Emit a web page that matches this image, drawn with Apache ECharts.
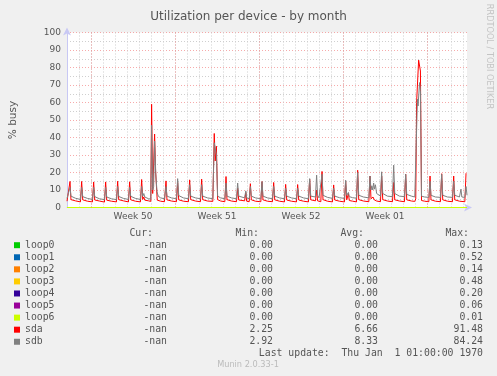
<!DOCTYPE html>
<html>
<head>
<meta charset="utf-8">
<script src="https://cdn.jsdelivr.net/npm/echarts@6/dist/echarts.min.js"></script>
<style>
  html, body { margin: 0; padding: 0; background: #f0f0f0; }
  #chart { width: 497px; height: 376px; }
</style>
</head>
<body>
<div id="chart"></div>
<script>
// x values are days since the left edge of the graph (one grid column = one day)
const weekPos = [5.5, 12.5, 19.5, 26.5]
const weekLabels = ['Week 50', 'Week 51', 'Week 52', 'Week 01']
const weekStarts = [2, 9, 16, 23, 30]

const loopZero = [[0, 0], [33.33, 0]]

const sdaPoints = [
  [0, 3.6], [0.16, 3.4], [0.25, 14.9], [0.33, 4.5], [0.7, 3.8],
  [1.12, 3.2], [1.22, 14.9], [1.31, 4.4], [1.7, 3.6],
  [2.12, 3.2], [2.22, 14.6], [2.31, 4.3], [2.7, 3.7],
  [3.12, 3.1], [3.22, 14.6], [3.31, 4.2], [3.7, 3.6],
  [4.12, 3.2], [4.22, 15], [4.31, 4.5], [4.7, 3.8],
  [5.12, 3.2], [5.22, 14.7], [5.31, 4.4], [5.7, 3.6],
  [6.12, 3.2], [6.22, 16], [6.31, 4.6], [6.4, 6], [6.48, 4.2], [6.8, 3.8],
  [6.98, 3.5], [7.05, 59], [7.14, 8], [7.22, 9], [7.3, 42], [7.38, 21], [7.46, 20], [7.52, 4.2], [7.8, 3.6],
  [8.12, 3.3], [8.25, 15.2], [8.33, 4.4], [8.7, 3.7],
  [9.12, 3.3], [9.22, 14.3], [9.31, 4.4], [9.7, 3.6],
  [10.12, 3.3], [10.22, 15.8], [10.31, 4.5], [10.7, 3.7],
  [11.12, 3.3], [11.22, 16.2], [11.31, 4.5], [11.7, 3.7],
  [12.15, 3.5], [12.27, 42.3], [12.35, 26.6], [12.45, 35], [12.55, 4.5], [12.8, 3.7],
  [13.15, 3.3], [13.25, 17.7], [13.33, 4.5], [13.7, 3.7],
  [14.12, 3.3], [14.22, 11], [14.31, 4.3], [14.8, 3.8], [14.9, 8.6], [14.97, 3.6],
  [15.18, 3.3], [15.28, 13.6], [15.36, 4.4], [15.7, 3.6],
  [16.15, 3.3], [16.25, 14.8], [16.33, 4.4], [16.7, 3.6],
  [17.12, 3.3], [17.22, 14.3], [17.31, 4.4], [17.7, 3.6],
  [18.12, 3.2], [18.22, 13.2], [18.31, 4.3], [18.7, 3.6],
  [19.12, 3.2], [19.22, 13.1], [19.31, 4.3], [19.7, 3.6],
  [20.12, 3.2], [20.22, 16.2], [20.31, 4.4], [20.7, 3.8], [20.8, 10], [20.88, 3.8],
  [21.15, 3.3], [21.25, 20.6], [21.33, 4.5], [21.7, 3.6],
  [22.12, 3.2], [22.22, 12.9], [22.31, 4.3], [22.7, 3.6],
  [23.12, 3.2], [23.22, 14.8], [23.31, 4.4], [23.45, 8], [23.52, 4], [23.8, 3.6],
  [24.12, 3.2], [24.22, 21.3], [24.31, 4.5], [24.7, 3.7],
  [25.15, 3.3], [25.25, 18], [25.33, 5], [25.5, 6], [25.6, 4.4], [25.8, 3.7],
  [26.12, 3.3], [26.22, 18], [26.31, 4.5], [26.7, 3.7],
  [27.12, 3.3], [27.22, 14.3], [27.31, 4.4], [27.7, 3.7],
  [28.12, 3.3], [28.22, 19], [28.31, 4.4], [28.7, 3.7], [28.98, 3.5],
  [29.06, 5], [29.13, 60], [29.3, 84.2], [29.45, 78], [29.54, 4], [29.8, 3.6],
  [30.15, 3.3], [30.25, 18], [30.33, 4.4], [30.7, 3.6],
  [31.12, 3.3], [31.22, 19.3], [31.31, 4.4], [31.7, 3.6],
  [32.12, 3.3], [32.22, 18], [32.31, 4.4], [32.7, 3.6],
  [33.15, 3.3], [33.25, 19.6]
]

const sdbPoints = [
  [0, 5.2], [0.16, 4.8], [0.25, 11.5], [0.33, 6.5], [0.7, 5.3],
  [1.12, 4.6], [1.22, 11.5], [1.31, 6.2], [1.7, 5.2],
  [2.12, 4.6], [2.22, 11.5], [2.31, 6.2], [2.7, 5],
  [3.12, 4.5], [3.22, 11.5], [3.31, 6], [3.7, 5],
  [4.12, 4.5], [4.22, 12], [4.31, 6.3], [4.7, 5.2],
  [5.12, 4.6], [5.22, 11.5], [5.31, 6.4], [5.7, 5.2],
  [6.12, 4.6], [6.22, 12], [6.31, 6.5], [6.4, 8], [6.48, 6], [6.8, 5],
  [6.98, 4.8], [7.05, 47], [7.14, 10], [7.22, 12], [7.3, 38], [7.4, 19], [7.5, 9], [7.6, 6.5], [7.8, 5.5],
  [8.12, 5], [8.25, 12], [8.33, 6.5], [8.7, 5.5],
  [9.12, 5], [9.22, 16.5], [9.31, 6.8], [9.7, 5.5],
  [10.12, 5], [10.22, 13], [10.31, 6.5], [10.7, 5.5],
  [11.12, 5], [11.22, 13], [11.31, 6.5], [11.7, 5.5],
  [12.15, 5], [12.27, 37], [12.35, 36], [12.45, 30], [12.55, 6.5], [12.8, 5.5],
  [13.15, 5], [13.25, 14], [13.33, 6.5], [13.7, 5.5],
  [14.12, 5], [14.22, 14], [14.31, 6.5], [14.8, 5.5], [14.9, 9.5], [14.97, 5.5],
  [15.18, 5], [15.28, 12], [15.36, 6.5], [15.7, 5.5],
  [16.15, 5], [16.25, 14.8], [16.33, 6.5], [16.7, 5.5],
  [17.12, 5], [17.22, 12], [17.31, 6.5], [17.7, 5.5],
  [18.12, 5], [18.22, 11], [18.31, 6.5], [18.7, 5.5],
  [19.12, 5], [19.22, 11], [19.31, 6.5], [19.7, 5.5],
  [20.12, 5], [20.22, 16.5], [20.31, 6.5], [20.7, 6], [20.8, 18.5], [20.88, 7], [21.0, 5.5],
  [21.15, 5.2], [21.25, 19], [21.33, 7], [21.7, 5.8],
  [22.12, 5.2], [22.22, 11], [22.31, 6.5], [22.7, 5.6],
  [23.12, 5.2], [23.22, 15.6], [23.31, 7], [23.45, 8.6], [23.52, 6.2], [23.8, 5.6],
  [24.12, 5.3], [24.22, 20], [24.31, 7], [24.7, 6],
  [25.15, 5.5], [25.25, 18], [25.33, 10], [25.4, 12.4], [25.48, 10], [25.55, 14], [25.62, 10.5], [25.7, 13], [25.8, 8], [25.95, 7],
  [26.12, 6.5], [26.22, 20.4], [26.31, 8], [26.7, 6.5],
  [27.12, 6.2], [27.22, 24.2], [27.31, 8], [27.7, 6.5],
  [28.12, 6.2], [28.22, 19], [28.31, 7.5], [28.7, 6.5], [28.98, 6],
  [29.06, 6], [29.2, 62], [29.25, 58], [29.38, 71.4], [29.45, 67], [29.54, 6.5], [29.8, 6],
  [30.15, 5.8], [30.25, 15], [30.33, 7], [30.7, 6],
  [31.12, 5.8], [31.22, 19], [31.31, 7], [31.7, 6],
  [32.12, 5.8], [32.22, 15], [32.31, 7], [32.7, 6], [32.83, 10.5], [32.9, 6],
  [33.15, 5.8], [33.25, 12], [33.33, 7]
]

// legend table
const devNames = ['loop0', 'loop1', 'loop2', 'loop3', 'loop4', 'loop5', 'loop6', 'sda', 'sdb']
const devColors = ['#00cc00', '#0066b3', '#ff8000', '#ffcc00', '#330099', '#990099', '#ccff00', '#ff0000', '#808080']
const curVals = ['-nan', '-nan', '-nan', '-nan', '-nan', '-nan', '-nan', '-nan', '-nan']
const minVals = ['0.00', '0.00', '0.00', '0.00', '0.00', '0.00', '0.00', '2.25', '2.92']
const avgVals = ['0.00', '0.00', '0.00', '0.00', '0.00', '0.00', '0.00', '6.66', '8.33']
const maxVals = ['0.13', '0.52', '0.14', '0.48', '0.20', '0.06', '0.01', '91.48', '84.24']

const mono = 'DejaVu Sans Mono'
const sans = 'DejaVu Sans'
const textColor = '#555'

const chart = echarts.init(document.getElementById('chart'), null, { renderer: 'canvas' })

function legendGraphics() {
  const els = []
  const cols = [167, 273, 378, 483]
  const heads = ['Cur:', 'Min:', 'Avg:', 'Max:']
  heads.forEach(function (h, i) {
    els.push({ type: 'text', x: cols[i] - 14, y: 233.5,
      style: { text: h, font: '9.8px "' + mono + '"', fill: textColor, align: 'right', verticalAlign: 'middle' } })
  })
  devNames.forEach(function (name, r) {
    const y = 245.2 + r * 12.07
    els.push({ type: 'rect', shape: { x: 14, y: y - 3, width: 6, height: 6 }, style: { fill: devColors[r] } })
    els.push({ type: 'text', x: 25, y: y,
      style: { text: name, font: '9.8px "' + mono + '"', fill: textColor, align: 'left', verticalAlign: 'middle' } })
    const vals = [curVals[r], minVals[r], avgVals[r], maxVals[r]]
    vals.forEach(function (v, i) {
      els.push({ type: 'text', x: cols[i], y: y,
        style: { text: v, font: '9.8px "' + mono + '"', fill: textColor, align: 'right', verticalAlign: 'middle' } })
    })
  })
  els.push({ type: 'text', x: 483, y: 353.5,
    style: { text: 'Last update:  Thu Jan  1 01:00:00 1970', font: '9.8px "' + mono + '"', fill: textColor, align: 'right', verticalAlign: 'middle' } })
  els.push({ type: 'text', x: 248, y: 365,
    style: { text: 'Munin 2.0.33-1', font: '8.2px "' + sans + '"', fill: '#bbb', align: 'center', verticalAlign: 'middle' } })
  els.push({ type: 'text', x: 489.5, y: 56.5, rotation: -Math.PI / 2,
    style: { text: 'RRDTOOL / TOBI OETIKER', font: '8.2px "' + sans + '"', fill: '#c4c4c4', align: 'center', verticalAlign: 'middle' } })
  return els
}

function lineSeries(name, data, color) {
  return {
    name: name,
    type: 'line',
    data: data,
    showSymbol: false,
    symbol: 'none',
    lineStyle: { color: color, width: 1 },
    itemStyle: { color: color },
    silent: true
  }
}

const series = []
for (let i = 0; i < 7; i++) {
  series.push(lineSeries(devNames[i], loopZero, devColors[i]))
}
series[0].markLine = {
  silent: true,
  symbol: 'none',
  label: { show: false },
  lineStyle: { color: 'rgba(240,100,100,0.6)', type: [1, 2], width: 1 },
  data: weekStarts.map(function (w) { return { xAxis: w } })
}
series.push(lineSeries('sda', sdaPoints, devColors[7]))
series.push(lineSeries('sdb', sdbPoints, devColors[8]))

const option = {
  backgroundColor: '#f0f0f0',
  animation: false,
  title: {
    text: 'Utilization per device - by month',
    left: 'center',
    top: 6,
    textStyle: { fontFamily: sans, fontSize: 12, fontWeight: 'normal', color: textColor }
  },
  grid: { left: 67, top: 32.5, width: 400, height: 175, backgroundColor: '#fff', show: true, borderWidth: 0 },
  xAxis: {
    type: 'value',
    min: 0,
    max: 33.33,
    interval: 1,
    axisLine: { show: true, onZero: false, lineStyle: { color: '#c8c8f4', width: 1 }, symbol: ['none', 'arrow'], symbolSize: [6, 8], symbolOffset: [0, 5] },
    axisTick: { show: false },
    axisLabel: {
      customValues: weekPos,
      formatter: function (v) {
        const i = weekPos.indexOf(v)
        return i >= 0 ? weekLabels[i] : ''
      },
      margin: 5,
      fontFamily: sans,
      fontSize: 9,
      color: textColor
    },
    splitLine: { show: true, showMinLine: false, showMaxLine: false, lineStyle: { color: '#cfcfcf', type: [1, 2], width: 1 } }
  },
  yAxis: {
    type: 'value',
    min: 0,
    max: 100,
    interval: 10,
    name: '% busy',
    nameLocation: 'middle',
    nameGap: 48,
    nameTextStyle: { fontFamily: sans, fontSize: 10.5, color: textColor },
    axisLine: { show: true, lineStyle: { color: '#c8c8f4', width: 1 }, symbol: ['none', 'arrow'], symbolSize: [6, 8], symbolOffset: [0, 5] },
    axisTick: { show: false },
    axisLabel: { margin: 6, fontFamily: sans, fontSize: 9, color: textColor },
    splitLine: { show: true, lineStyle: { color: 'rgba(240,100,100,0.55)', type: [1, 2], width: 1 } },
    minorTick: { show: false, splitNumber: 2 },
    minorSplitLine: { show: true, lineStyle: { color: '#cfcfcf', type: [1, 2], width: 1 } }
  },
  graphic: legendGraphics(),
  series: series
}

chart.setOption(option)
</script>
</body>
</html>
